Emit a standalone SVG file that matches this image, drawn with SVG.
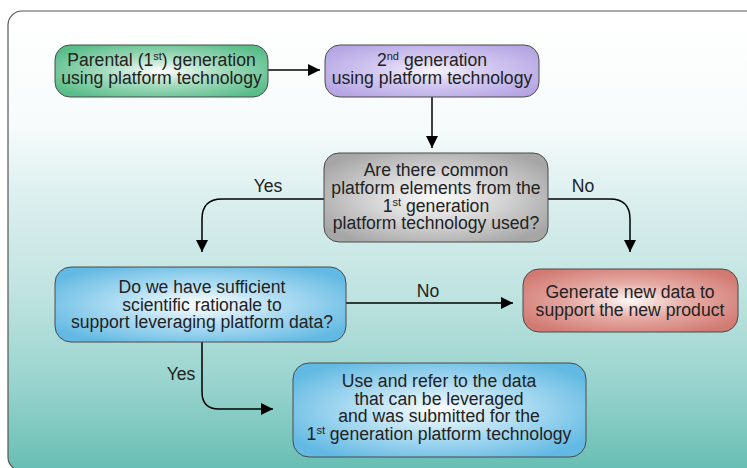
<svg xmlns="http://www.w3.org/2000/svg" width="747" height="468" viewBox="0 0 747 468">
<defs>
<linearGradient id="bg" gradientUnits="userSpaceOnUse" x1="0" y1="11" x2="0" y2="468">
<stop offset="0" stop-color="#ffffff"/>
<stop offset="0.25" stop-color="#f7fbfb"/>
<stop offset="0.42" stop-color="#daeeee"/>
<stop offset="0.62" stop-color="#bfe3e0"/>
<stop offset="0.82" stop-color="#98d3cd"/>
<stop offset="1" stop-color="#68beb4"/>
</linearGradient>
<radialGradient id="gGreen" cx="0.5" cy="0.5" r="0.6"><stop offset="0" stop-color="#ffffff"/><stop offset="0.45" stop-color="#a6dcbf"/><stop offset="1" stop-color="#58bd89"/></radialGradient>
<radialGradient id="gPurple" cx="0.5" cy="0.5" r="0.6"><stop offset="0" stop-color="#f6f3fd"/><stop offset="0.45" stop-color="#d3c9f1"/><stop offset="1" stop-color="#b6a6e4"/></radialGradient>
<radialGradient id="gGray" cx="0.5" cy="0.5" r="0.6"><stop offset="0" stop-color="#fafafa"/><stop offset="0.45" stop-color="#d8d8d8"/><stop offset="1" stop-color="#a6a6a6"/></radialGradient>
<radialGradient id="gBlue" cx="0.5" cy="0.5" r="0.6"><stop offset="0" stop-color="#ffffff"/><stop offset="0.45" stop-color="#b2def3"/><stop offset="1" stop-color="#62b9e3"/></radialGradient>
<radialGradient id="gRed" cx="0.5" cy="0.5" r="0.6"><stop offset="0" stop-color="#fff8f7"/><stop offset="0.45" stop-color="#e6aca6"/><stop offset="1" stop-color="#d17a72"/></radialGradient>
<marker id="arr" viewBox="0 0 12 12" refX="12" refY="6" markerWidth="12" markerHeight="12" markerUnits="userSpaceOnUse" orient="auto">
<path d="M0,0 L12,6 L0,12 Z" fill="#000"/>
</marker>
<style>
.box{stroke:#4a4a4a;stroke-width:1}
.t{font-family:"Liberation Sans",Arial,sans-serif;font-size:17.6px;fill:#222;text-anchor:middle}
.sup{font-size:11px}
.lbl{font-family:"Liberation Sans",Arial,sans-serif;font-size:17.6px;fill:#222;text-anchor:middle}
.c{fill:none;stroke:#000;stroke-width:1.5;marker-end:url(#arr)}
</style>
</defs>
<rect x="8" y="11" width="760" height="460" rx="14" fill="url(#bg)" stroke="#555" stroke-width="1.2"/>
<g id="connectors">
<path class="c" d="M268,70 L320,70"/>
<path class="c" d="M432,97 L432,148"/>
<path class="c" d="M324,199 L222,199 Q202,199 202,219 L202,252"/>
<path class="c" d="M548,199 L610,199 Q630,199 630,219 L630,252"/>
<path class="c" d="M346,303 L513,303"/>
<path class="c" d="M202,342 L202,392 Q202,409 219,409 L273,409"/>
<text class="lbl" x="268" y="192">Yes</text>
<text class="lbl" x="583" y="192">No</text>
<text class="lbl" x="428" y="297">No</text>
<text class="lbl" x="181" y="380">Yes</text>
</g>
<g id="node-parental">
<rect class="box" x="55" y="45" width="213" height="52" rx="15" fill="url(#gGreen)"/>
<text class="t"><tspan x="161.5" y="66">Parental (1<tspan class="sup" dy="-6">st</tspan><tspan dy="6">) generation</tspan></tspan><tspan x="161.5" y="84">using platform technology</tspan></text>
</g>
<g id="node-second">
<rect class="box" x="325" y="45" width="214" height="52" rx="15" fill="url(#gPurple)"/>
<text class="t"><tspan x="432" y="66">2<tspan class="sup" dy="-6">nd</tspan><tspan dy="6"> generation</tspan></tspan><tspan x="432" y="84">using platform technology</tspan></text>
</g>
<g id="node-common">
<rect class="box" x="324" y="153" width="224" height="89" rx="15" fill="url(#gGray)"/>
<text class="t"><tspan x="436" y="176">Are there common</tspan><tspan x="436" y="194">platform elements from the</tspan><tspan x="436" y="212">1<tspan class="sup" dy="-6">st</tspan><tspan dy="6"> generation</tspan></tspan><tspan x="436" y="229">platform technology used?</tspan></text>
</g>
<g id="node-rationale">
<rect class="box" x="55" y="267" width="291" height="75" rx="16" fill="url(#gBlue)"/>
<text class="t"><tspan x="202" y="293">Do we have sufficient</tspan><tspan x="202" y="311">scientific rationale to</tspan><tspan x="202" y="328">support leveraging platform data?</tspan></text>
</g>
<g id="node-generate">
<rect class="box" x="523" y="269" width="215" height="63" rx="16" fill="url(#gRed)"/>
<text class="t"><tspan x="630" y="298">Generate new data to</tspan><tspan x="630" y="316">support the new product</tspan></text>
</g>
<g id="node-use">
<rect class="box" x="293" y="363" width="293" height="94" rx="16" fill="url(#gBlue)"/>
<text class="t"><tspan x="439" y="387">Use and refer to the data</tspan><tspan x="439" y="405">that can be leveraged</tspan><tspan x="439" y="422">and was submitted for the</tspan><tspan x="439" y="440">1<tspan class="sup" dy="-6">st</tspan><tspan dy="6"> generation platform technology</tspan></tspan></text>
</g>
</svg>
